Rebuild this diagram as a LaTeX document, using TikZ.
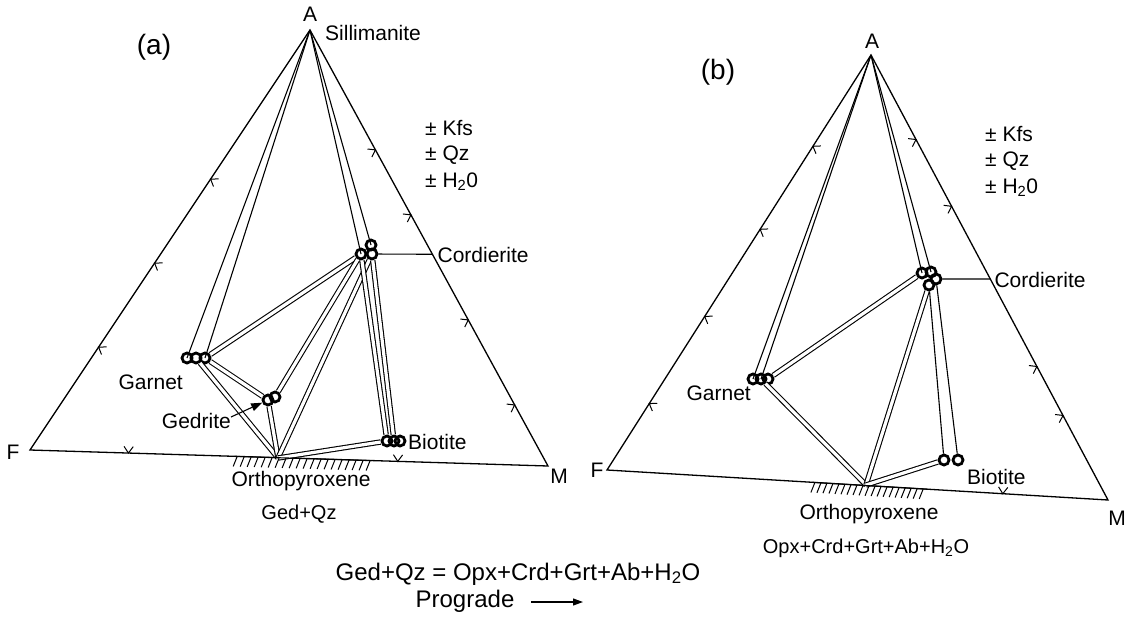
\documentclass[tikz,border=0pt]{standalone}
\usepackage{fontspec}
\setmainfont{Liberation Sans}
\usetikzlibrary{calc,arrows.meta}

\tikzset{
  side/.style={line width=1.3pt},
  tie/.style={line width=1.1pt},
  band/.style={double, line width=1.1pt, double distance=3.2pt},
  phase/.style={circle, draw, line width=2.8pt, minimum size=10pt, inner sep=0pt},
  lbl/.style={font=\fontsize{21}{25}\selectfont, inner sep=0pt},
  smlbl/.style={font=\fontsize{20}{24}\selectfont, inner sep=0pt},
  rxnlbl/.style={font=\fontsize{24}{28}\selectfont, inner sep=0pt},
  biglbl/.style={font=\fontsize{28}{32}\selectfont, inner sep=0pt},
  tickmark/.style={line width=1pt},
  hatch/.style={line width=1pt},
}

% small chevron on a side of a triangle, opening towards the inside
\newcommand\sidetick[3]{%
  \coordinate (tk) at ($(#1)!#3!(#2)$);
  \draw[tickmark] ($(tk)!8pt!55:(#2)$) -- (tk) -- ($(tk)!8pt!125:(#2)$);
}
% hatched bar hanging below the F-M join, between fractions #3 and #5
\newcommand\opxbar[5]{%
  \foreach \f in {#3,#4,...,#5} {
    \coordinate (hb) at ($(#1)!\f!(#2)$);
    \draw[hatch] (hb) -- ++(-4,10);
  }
}

\begin{document}
\begin{tikzpicture}[x=1pt,y=-1pt]
\useasboundingbox (0,0) rectangle (1129,616);

%==================== diagram (a) ====================
\coordinate (aA) at (310,30);
\coordinate (aF) at (30,450);
\coordinate (aM) at (548,466);
\coordinate (aOpx) at (278,458);

\node[phase] (aGrt1) at (187,358) {};
\node[phase] (aGrt2) at (196,358) {};
\node[phase] (aGrt3) at (205,358) {};
\node[phase] (aGed1) at (268,400) {};
\node[phase] (aGed2) at (275,397) {};
\node[phase] (aCrd1) at (361,254) {};
\node[phase] (aCrd2) at (371,245) {};
\node[phase] (aCrd3) at (372,254) {};
\node[phase] (aBt1) at (387,441) {};
\node[phase] (aBt2) at (394,441) {};
\node[phase] (aBt3) at (400,441) {};

\draw[side] (aA) -- (aF) -- (aM) -- cycle;

% tie lines
\draw[tie] (aA) -- (aGrt1.center);
\draw[tie] (aA) -- (aGrt3.center);
\draw[tie] (aA) -- (aCrd1.center);
\draw[tie] (aA) -- (aCrd2.center);
\draw[band] (aGrt3) -- (aCrd1);
\draw[band] (aGrt3) -- (aGed1);
\draw[band] (aGrt2) -- (aOpx);
\draw[band] (aGed1) -- (aOpx);
\draw[band] (aGed2) -- (aCrd1);
\draw[band] (aCrd3) -- (aOpx);
\draw[band] (aCrd1) -- (aBt1);
\draw[band] (aCrd3) -- (aBt2);
\draw[band] (aOpx) -- (aBt1);

% orthopyroxene field on the F-M join
\opxbar{aF}{aM}{0.40}{0.4135}{0.66}
\draw[hatch] ($(aF)!0.395!(aM)$) -- ($(aF)!0.66!(aM)$);

% ticks on the sides
\sidetick{aA}{aF}{0.355}
\sidetick{aA}{aF}{0.555}
\sidetick{aA}{aF}{0.755}
\sidetick{aM}{aA}{0.725}
\sidetick{aM}{aA}{0.576}
\sidetick{aM}{aA}{0.335}
\sidetick{aM}{aA}{0.14}
\sidetick{aF}{aM}{0.19}
\sidetick{aF}{aM}{0.71}

% labels
\node[lbl] (aAl) at (310,14) {A};
\node[lbl,anchor=west] (aSil) at (325,33) {Sillimanite};
\node[lbl] (aFl) at (13,452) {F};
\node[lbl] (aMl) at (559,476) {M};
\node[biglbl] (aTitle) at (154,47) {(a)};
\node[lbl,anchor=west] (aKfs) at (425,128) {\textpm{} Kfs};
\node[lbl,anchor=west] (aQz) at (425,155) {\textpm{} Qz};
\node[lbl,anchor=west] (aWat) at (425,182) {\textpm{} H\textsubscript{2}0};
\node[lbl,anchor=east] (aGrtl) at (183,382) {Garnet};
\node[lbl,anchor=east] (aGedl) at (231,421) {Gedrite};
\node[lbl,anchor=west] (aBtl) at (408,442) {Biotite};
\node[lbl] (aOpxl) at (301,481) {Orthopyroxene};
\node[smlbl] (aAss) at (299,514) {Ged+Qz};

% cordierite leader up to the A-M side
\coordinate (aCrdR) at (600,255);
\coordinate (aLead) at (intersection of aA--aM and aCrd3--aCrdR);
\draw[tie] (aCrd3) -- (aLead);
\node[lbl,anchor=west] (aCrdl) at ($(aLead)+(5,1)$) {Cordierite};

\draw[line width=1.1pt,-{Triangle[length=11pt,width=8pt]}] (aGedl.east) ++(0,-4) -- (aGed1);

%==================== diagram (b) ====================
\coordinate (bA) at (871,55);
\coordinate (bF) at (607,470);
\coordinate (bM) at (1108,500);
\coordinate (bOpx) at (866,485);

\node[phase] (bGrt1) at (753,379) {};
\node[phase] (bGrt2) at (761,379) {};
\node[phase] (bGrt3) at (768,379) {};
\node[phase] (bCrd1) at (922,273) {};
\node[phase] (bCrd2) at (931,272) {};
\node[phase] (bCrd3) at (936,279) {};
\node[phase] (bCrd4) at (929,285) {};
\node[phase] (bBt1) at (944,460) {};
\node[phase] (bBt2) at (958,460) {};

\draw[side] (bA) -- (bF) -- (bM) -- cycle;

\draw[tie] (bA) -- (bGrt1.center);
\draw[tie] (bA) -- (bGrt2.center);
\draw[tie] (bA) -- (bCrd1.center);
\draw[tie] (bA) -- (bCrd2.center);
\draw[band] (bGrt3) -- (bCrd1);
\draw[band] (bGrt2) -- (bOpx);
\draw[band] (bCrd4) -- (bOpx);
\draw[tie] (bCrd4) -- (bBt1);
\draw[tie] (bCrd3) -- (bBt2);
\draw[band] (bOpx) -- (bBt1);

\opxbar{bF}{bM}{0.415}{0.427}{0.64}
\draw[hatch] ($(bF)!0.41!(bM)$) -- ($(bF)!0.64!(bM)$);

\sidetick{bA}{bF}{0.22}
\sidetick{bA}{bF}{0.42}
\sidetick{bA}{bF}{0.63}
\sidetick{bA}{bF}{0.84}
\sidetick{bM}{bA}{0.81}
\sidetick{bM}{bA}{0.66}
\sidetick{bM}{bA}{0.30}
\sidetick{bM}{bA}{0.19}
\sidetick{bF}{bM}{0.79}

\node[lbl] (bAl) at (872,41) {A};
\node[lbl] (bFl) at (597,470) {F};
\node[lbl] (bMl) at (1117,518) {M};
\node[biglbl] (bTitle) at (718,72) {(b)};
\node[lbl,anchor=west] (bKfs) at (985,134) {\textpm{} Kfs};
\node[lbl,anchor=west] (bQz) at (985,161) {\textpm{} Qz};
\node[lbl,anchor=west] (bWat) at (985,188) {\textpm{} H\textsubscript{2}0};
\node[lbl,anchor=east] (bGrtl) at (751,393) {Garnet};
\node[lbl,anchor=west] (bBtl) at (967,477) {Biotite};
\node[lbl] (bOpxl) at (869,514) {Orthopyroxene};
\node[smlbl] (bAss) at (866,548) {Opx+Crd+Grt+Ab+H\textsubscript{2}O};

\coordinate (bCrdR) at (1129,279);
\coordinate (bLead) at (intersection of bA--bM and bCrd3--bCrdR);
\draw[tie] (bCrd3) -- (bLead);
\node[lbl,anchor=west] (bCrdl) at ($(bLead)+(4,1)$) {Cordierite};

%==================== reaction ====================
\node[rxnlbl] (rxn) at (518,574) {Ged+Qz = Opx+Crd+Grt+Ab+H\textsubscript{2}O};
\node[rxnlbl] (prog) at (465,601) {Prograde};
\coordinate (progStart) at (531,602);
\coordinate (progEnd) at (583,602);
\draw[line width=1.1pt,-{Triangle[length=10pt,width=7pt]}] (progStart) -- (progEnd);
\end{tikzpicture}
\end{document}
